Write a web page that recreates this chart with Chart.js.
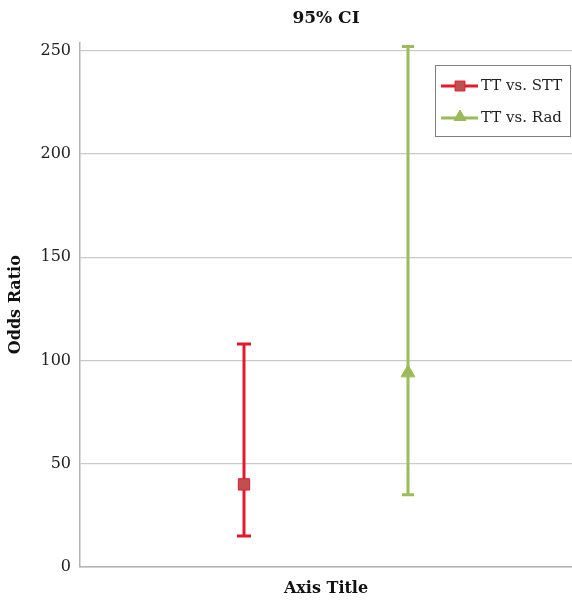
<!DOCTYPE html>
<html>
<head>
<meta charset="utf-8">
<script src="https://cdn.jsdelivr.net/npm/chart.js@4/dist/chart.umd.min.js"></script>
<style>
  html, body { margin: 0; padding: 0; background: #fff; overflow: hidden; }
  #wrap { width: 572px; height: 600px; position: relative; }
</style>
</head>
<body>
<div id="wrap"><canvas id="ciChart"></canvas></div>
<script>
// data
const seriesNames = ['TT vs. STT', 'TT vs. Rad'];
const oddsRatio = [40, 94];
const ciLower = [15, 35];
const ciUpper = [108, 252];
const yTicks = [0, 50, 100, 150, 200, 250];

const lineColors = ['#e31a2b', '#9bbb59'];
const markerFill = ['#c0504d', '#9bbb59'];
const markerStyle = ['rect', 'triangle'];
const capHalf = [7, 6];
const serif = '"DejaVu Serif", "Liberation Serif", serif';

// error bars drawn under the markers
const errorBars = {
  id: 'errorBars',
  beforeDatasetsDraw(chart) {
    const ctx = chart.ctx;
    const x = chart.scales.x, y = chart.scales.y;
    ctx.save();
    chart.data.datasets.forEach((ds, i) => {
      const px = x.getPixelForValue(ds.data[0].x);
      const top = y.getPixelForValue(ciUpper[i]);
      const bot = y.getPixelForValue(ciLower[i]);
      ctx.strokeStyle = lineColors[i];
      ctx.lineWidth = 3;
      ctx.beginPath();
      ctx.moveTo(px, top); ctx.lineTo(px, bot);
      ctx.moveTo(px - capHalf[i], top); ctx.lineTo(px + capHalf[i], top);
      ctx.moveTo(px - capHalf[i], bot); ctx.lineTo(px + capHalf[i], bot);
      ctx.stroke();
    });
    ctx.restore();
  }
};

// legend box inside the plot, top right
const boxLegend = {
  id: 'boxLegend',
  afterDraw(chart) {
    const ctx = chart.ctx;
    const area = chart.chartArea;
    const bx = area.right - 137, by = 65, bw = 135, bh = 71;
    ctx.save();
    ctx.fillStyle = '#fff';
    ctx.fillRect(bx, by, bw, bh);
    ctx.strokeStyle = '#7f7f7f';
    ctx.lineWidth = 1;
    ctx.strokeRect(bx + 0.5, by + 0.5, bw, bh);
    ctx.font = '15px ' + serif;
    ctx.textBaseline = 'middle';
    chart.data.datasets.forEach((ds, i) => {
      const ry = by + 21 + i * 32;
      ctx.strokeStyle = lineColors[i];
      ctx.lineWidth = 3;
      ctx.beginPath();
      ctx.moveTo(bx + 6, ry); ctx.lineTo(bx + 43, ry);
      ctx.stroke();
      ctx.fillStyle = markerFill[i];
      ctx.strokeStyle = ds.pointBorderColor;
      ctx.lineWidth = 1;
      Chart.helpers.drawPoint(ctx, { pointStyle: markerStyle[i], rotation: 0, borderWidth: 1, radius: 7 }, bx + 25, ry - (i ? 1 : 0));
      ctx.fillStyle = '#222';
      ctx.fillText(ds.label, bx + 46, ry);
    });
    ctx.restore();
  }
};

const datasets = seriesNames.map((name, i) => ({
  label: name,
  data: [{ x: i + 1, y: oddsRatio[i] }],
  pointStyle: markerStyle[i],
  pointRadius: 8,
  pointBackgroundColor: markerFill[i],
  pointBorderColor: lineColors[i],
  pointBorderWidth: 1,
  showLine: false
}));

new Chart(document.getElementById('ciChart'), {
  type: 'scatter',
  data: { datasets: datasets },
  options: {
    responsive: true,
    maintainAspectRatio: false,
    animation: false,
    layout: { autoPadding: false, padding: 0 },
    plugins: {
      legend: { display: false },
      tooltip: { enabled: false },
      title: {
        display: true,
        text: '95% CI',
        fullSize: false,
        color: '#111',
        font: { family: serif, size: 17, weight: 'bold' },
        padding: { top: 8, bottom: 14 }
      }
    },
    scales: {
      x: {
        type: 'linear',
        min: 0,
        max: 3,
        grid: { display: false },
        border: { display: true, color: '#b3b3b3', width: 1.5 },
        ticks: { display: false },
        title: {
          display: true,
          text: 'Axis Title',
          color: '#111',
          font: { family: serif, size: 16, weight: 'bold' },
          padding: { top: 4, bottom: 2 }
        },
        afterFit(scale) { scale.height = 33; }
      },
      y: {
        min: 0,
        max: 254,
        afterBuildTicks(scale) { scale.ticks = yTicks.map(v => ({ value: v })); },
        grid: { color: '#c9c9c9', lineWidth: 1.2, drawTicks: false },
        border: { display: true, color: '#b3b3b3', width: 1.5 },
        ticks: {
          color: '#222',
          padding: 9,
          font: { family: serif, size: 16 }
        },
        title: {
          display: true,
          text: 'Odds Ratio',
          color: '#111',
          font: { family: serif, size: 16, weight: 'bold' },
          padding: { top: 6, bottom: 4 }
        },
        afterFit(scale) { scale.width = 80; }
      }
    }
  },
  plugins: [errorBars, boxLegend]
});
</script>
</body>
</html>
